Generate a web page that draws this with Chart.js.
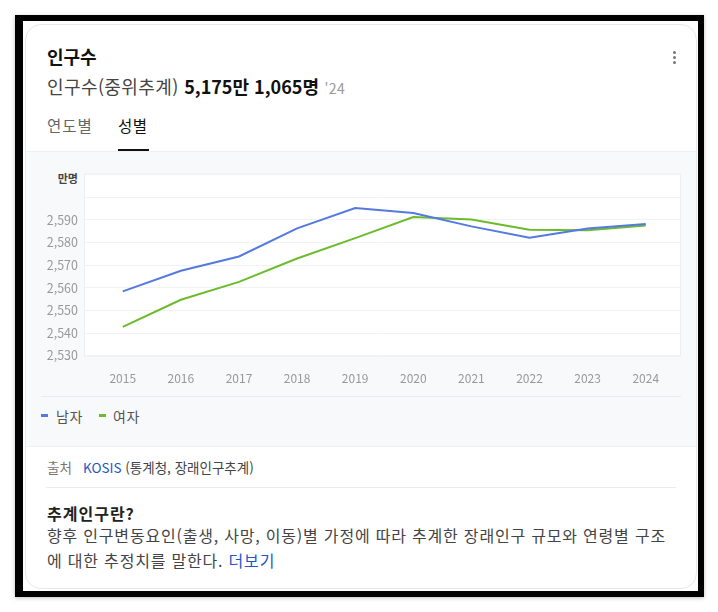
<!DOCTYPE html>
<html lang="ko">
<head>
<meta charset="utf-8">
<script src="https://cdn.jsdelivr.net/npm/chart.js@4.4.1/dist/chart.umd.min.js"></script>
<style>
  html, body { margin: 0; padding: 0; background: #fff; }
  body { width: 718px; height: 612px; position: relative; overflow: hidden;
         font-family: "Noto Sans CJK KR", "Noto Sans", sans-serif; }
  .abs { position: absolute; white-space: nowrap; }
  #frame { position: absolute; left: 15px; top: 15px; width: 675px; height: 570px;
           border-style: solid; border-color: #000; border-width: 6px 6px 6px 8px;
           box-shadow: 0 1px 4px rgba(0,0,0,0.25); background: #fff; }
  #card { position: absolute; left: 25px; top: 24px; width: 670px; height: 563px;
          border: 1px solid #e6e8eb; border-radius: 16px; background: #fff; overflow: hidden; }
  #band { position: absolute; left: 0; top: 126px; width: 100%; height: 294px;
          background: #f8f9fb; border-top: 1px solid #eef0f2; border-bottom: 1px solid #eef0f2; }
  .dot { position: absolute; width: 3px; height: 3px; border-radius: 50%; background: #777; }
  .line { position: absolute; height: 1px; background: #e9ebee; }
  #chartWrap { position: absolute; left: 40px; top: 160px; width: 650px; height: 230px; }
</style>
</head>
<body>
<div id="frame"></div>
<div id="card"><div id="band"></div></div>

<div class="abs" style="left:47px; top:47px; font-size:18px; line-height:18px; font-weight:700; color:#111;">인구수</div>
<div class="abs" style="left:47px; top:77px; font-size:18px; line-height:18px; color:#444; letter-spacing:0.4px;">인구수(중위추계) <b style="color:#111; letter-spacing:0;">5,175만 1,065명</b> <span style="font-size:14px; color:#999;">'24</span></div>
<div class="dot" style="left:673px; top:51px;"></div>
<div class="dot" style="left:673px; top:56px;"></div>
<div class="dot" style="left:673px; top:61px;"></div>

<div class="abs" style="left:47px; top:117px; font-size:15.5px; line-height:16px; color:#666; letter-spacing:1px;">연도별</div>
<div class="abs" style="left:118px; top:117px; font-size:15.5px; line-height:16px; color:#111; letter-spacing:0.5px;">성별</div>
<div class="abs" style="left:118px; top:149px; width:31px; height:2px; background:#111;"></div>

<div class="abs" style="left:40px; top:172px; width:38px; text-align:right; font-size:11px; line-height:12px; font-weight:700; color:#444;">만명</div>
<div id="chartWrap"><canvas id="chart"></canvas></div>

<div class="line" style="left:41px; top:396px; width:640px;"></div>
<div class="abs" style="left:41px; top:414px; width:7px; height:3px; background:#5479e1;"></div>
<div class="abs" style="left:56px; top:409px; font-size:14px; line-height:14px; color:#555; letter-spacing:0.5px;">남자</div>
<div class="abs" style="left:99px; top:414px; width:7px; height:3px; background:#6cbb2c;"></div>
<div class="abs" style="left:113px; top:409px; font-size:14px; line-height:14px; color:#555; letter-spacing:0.5px;">여자</div>

<div class="abs" style="left:47px; top:460px; font-size:13.5px; line-height:14px; color:#777;">출처</div>
<div class="abs" style="left:83px; top:460px; font-size:13.5px; line-height:14px; color:#444;"><span style="color:#1f56c7;">KOSIS</span> (통계청, 장래인구추계)</div>
<div class="line" style="left:46px; top:487px; width:630px;"></div>

<div class="abs" style="left:47px; top:505px; font-size:16px; line-height:16px; font-weight:700; color:#222; letter-spacing:1px;">추계인구란?</div>
<div style="position:absolute; left:47px; top:523px; width:629px; font-size:16px; line-height:25px; color:#444; letter-spacing:0.8px;">향후 인구변동요인(출생, 사망, 이동)별 가정에 따라 추계한 장래인구 규모와 연령별 구조에 대한 추정치를 말한다. <span style="color:#1f56c7;">더보기</span></div>

<script>
// 연도별 남녀 인구 (만명)
const years = [2015, 2016, 2017, 2018, 2019, 2020, 2021, 2022, 2023, 2024];
const male = [2558.4, 2567.5, 2573.8, 2586.2, 2595.2, 2593.0, 2587.1, 2582.1, 2586.2, 2588.1];
const female = [2542.7, 2554.7, 2562.6, 2572.9, 2581.9, 2591.2, 2590.1, 2585.6, 2585.4, 2587.5];
const seriesNames = ['남자', '여자'];
const yTicks = [2530, 2540, 2550, 2560, 2570, 2580, 2590];

// white plot box behind the grid
const plotBox = {
    id: 'plotBox',
    beforeDraw(chart) {
        const { ctx, chartArea: a } = chart;
        ctx.save();
        ctx.fillStyle = '#fff';
        ctx.fillRect(a.left, a.top, a.right - a.left, a.bottom - a.top);
        ctx.strokeStyle = '#eceef1';
        ctx.lineWidth = 1;
        ctx.strokeRect(a.left - 0.5, a.top - 0.5, a.right - a.left + 1, a.bottom - a.top + 1);
        ctx.restore();
    }
};

const toPoints = (vals) => vals.map((v, i) => ({ x: years[i], y: v }));

new Chart(document.getElementById('chart'), {
    type: 'line',
    data: {
        datasets: [
            { label: seriesNames[0], data: toPoints(male), borderColor: '#5479e1', borderWidth: 2, pointRadius: 0, tension: 0 },
            { label: seriesNames[1], data: toPoints(female), borderColor: '#6cbb2c', borderWidth: 2, pointRadius: 0, tension: 0 }
        ]
    },
    options: {
        responsive: true,
        maintainAspectRatio: false,
        animation: false,
        layout: { padding: { top: 13, right: 10, left: 0, bottom: 0 } },
        plugins: { legend: { display: false }, tooltip: { enabled: false } },
        scales: {
            x: {
                type: 'linear',
                min: 2014.35,
                max: 2024.59,
                afterBuildTicks: (s) => { s.ticks = years.map(v => ({ value: v })); },
                afterFit: (s) => { s.height = 34.3; },
                grid: { display: false },
                border: { display: false },
                ticks: {
                    padding: 8,
                    color: '#999',
                    font: { family: '"Noto Sans CJK KR", "Noto Sans", sans-serif', size: 12 },
                    callback: (v) => String(v)
                }
            },
            y: {
                min: 2530,
                max: 2610,
                afterFit: (s) => { s.width = 45; },
                grid: { color: '#f1f2f4', drawTicks: false },
                border: { display: false },
                ticks: {
                    stepSize: 10,
                    padding: 7,
                    color: '#999',
                    font: { family: '"Noto Sans CJK KR", "Noto Sans", sans-serif', size: 12.5 },
                    callback: (v) => yTicks.includes(v) ? v.toLocaleString('en-US') : ''
                }
            }
        }
    },
    plugins: [plotBox]
});
</script>
</body>
</html>
